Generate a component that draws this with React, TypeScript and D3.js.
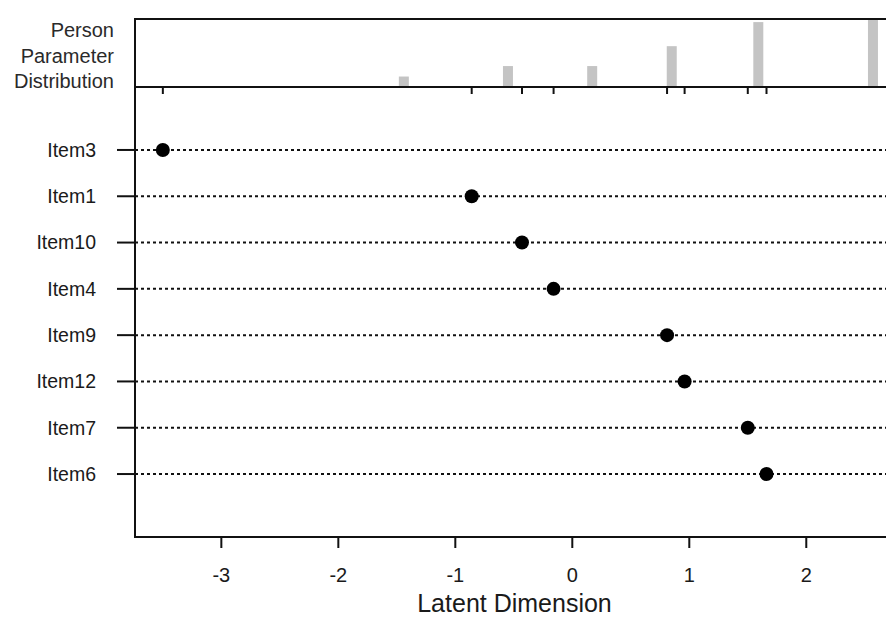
import React from "react";
import * as d3 from "d3";

const items = ["Item3", "Item1", "Item10", "Item4", "Item9", "Item12", "Item7", "Item6"];
const itemLocations = [-3.5, -0.86, -0.43, -0.16, 0.81, 0.96, 1.5, 1.66];
const personParams = [-1.44, -0.55, 0.17, 0.85, 1.59, 2.57];
const personFreq = [1, 2, 2, 3.9, 6.2, 6.4];
const xTicks = [-3, -2, -1, 0, 1, 2];
const sideLabel = ["Person", "Parameter", "Distribution"];

const W = 886;
const H = 618;
const FONT = "'Liberation Sans', Arial, sans-serif";

export default function App() {
  const left = 135;
  const right = 887;
  const histTop = 19;
  const histBottom = 87;
  const plotBottom = 537;

  const x = d3.scaleLinear().domain([-3.738, 2.69]).range([left, right]);
  const y = d3.scaleLinear().domain([-0.36, 9.36]).range([histBottom, plotBottom]);
  const yHist = d3.scaleLinear().domain([0, 6.4]).range([histBottom, 20]);
  const rows = items.map((_, i) => i + 1);
  const barW = 10;
  const textCol = "#1a1a1a";

  return (
    <svg
      width={W}
      height={H}
      style={{ position: "absolute", left: 0, top: 0, background: "#fff" }}
      fontFamily={FONT}
    >
      <rect x={0} y={0} width={W} height={H} fill="#fff" />
      {personParams.map((p, i) => (
        <rect
          key={"b" + i}
          x={x(p) - barW / 2}
          y={yHist(personFreq[i])}
          width={barW}
          height={histBottom - yHist(personFreq[i])}
          fill="#c4c4c4"
        />
      ))}
      <line x1={left} x2={W} y1={histTop} y2={histTop} stroke="#111" strokeWidth={2} />
      <line x1={left} x2={W} y1={histBottom} y2={histBottom} stroke="#111" strokeWidth={2} />
      {itemLocations.map((v, i) => (
        <line
          key={"t" + i}
          x1={x(v)}
          x2={x(v)}
          y1={histBottom}
          y2={histBottom + 7}
          stroke="#111"
          strokeWidth={2}
        />
      ))}
      <line x1={left} x2={left} y1={histTop - 1} y2={plotBottom + 1} stroke="#111" strokeWidth={2} />
      <line x1={left - 1} x2={W} y1={plotBottom} y2={plotBottom} stroke="#111" strokeWidth={2} />
      {xTicks.map((t) => (
        <g key={"x" + t}>
          <line x1={x(t)} x2={x(t)} y1={plotBottom} y2={plotBottom + 11} stroke="#111" strokeWidth={2} />
          <text x={x(t)} y={582} textAnchor="middle" fontSize={20} fill={textCol}>
            {t}
          </text>
        </g>
      ))}
      <text x={(left + W) / 2 + 4} y={612} textAnchor="middle" fontSize={25} fill={textCol}>
        Latent Dimension
      </text>
      {items.map((name, i) => {
        const yy = y(rows[i]);
        return (
          <g key={name}>
            <line
              x1={left}
              x2={W}
              y1={yy}
              y2={yy}
              stroke="#111"
              strokeWidth={2}
              strokeDasharray="3,3"
            />
            <line x1={117} x2={left} y1={yy} y2={yy} stroke="#111" strokeWidth={2} />
            <text
              x={96}
              y={yy}
              dy="0.35em"
              textAnchor="end"
              fontSize={19.5}
              fill={textCol}
            >
              {name}
            </text>
            <circle cx={x(itemLocations[i])} cy={yy} r={7} fill="#000" />
          </g>
        );
      })}
      {sideLabel.map((s, i) => (
        <text
          key={s}
          x={114}
          y={37 + i * 25.5}
          textAnchor="end"
          fontSize={20}
          fill="#2a2a2a"
        >
          {s}
        </text>
      ))}
    </svg>
  );
}
